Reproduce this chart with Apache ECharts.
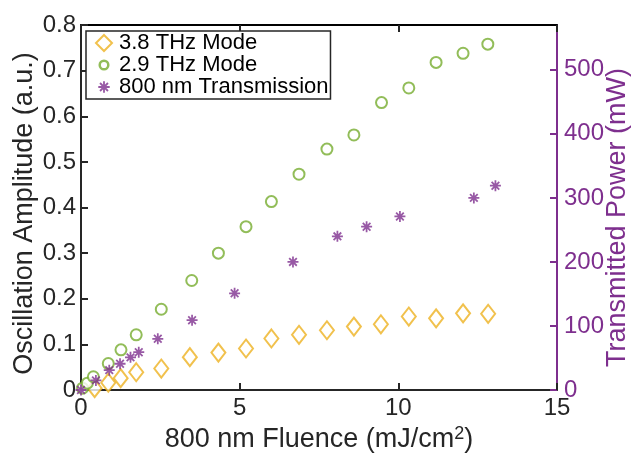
<!DOCTYPE html>
<html><head><meta charset="utf-8">
<script src="https://cdn.jsdelivr.net/npm/echarts@6/dist/echarts.min.js"></script>
<style>html,body{margin:0;padding:0;background:#fff}#c{width:634px;height:457px}</style>
</head><body><div id="c"></div>
<script>
// 3.8 THz mode: fluence (mJ/cm^2), amplitude (a.u.)
const fluence38 = [0, 0.26, 0.43, 0.86, 1.25, 1.74, 2.53, 3.43, 4.33, 5.2, 6.0, 6.87, 7.75, 8.6, 9.45, 10.33, 11.19, 12.04, 12.83];
const amp38 = [-0.003, -0.006, 0.004, 0.016, 0.026, 0.039, 0.047, 0.072, 0.082, 0.091, 0.113, 0.121, 0.131, 0.139, 0.144, 0.161, 0.157, 0.168, 0.167];
// 2.9 THz mode
const fluence29 = [0.05, 0.2, 0.39, 0.86, 1.26, 1.74, 2.53, 3.49, 4.33, 5.2, 6.0, 6.87, 7.75, 8.6, 9.47, 10.33, 11.19, 12.04, 12.82];
const amp29 = [0.004, 0.015, 0.029, 0.058, 0.088, 0.121, 0.177, 0.24, 0.30, 0.358, 0.413, 0.473, 0.528, 0.559, 0.63, 0.662, 0.718, 0.738, 0.758];
// 800 nm transmission: fluence, transmitted power (mW)
const fluenceT = [0, 0.47, 0.89, 1.23, 1.56, 1.82, 2.42, 3.5, 4.84, 6.68, 8.08, 9.0, 10.05, 12.38, 13.06];
const powerT = [0, 15, 31, 41, 51, 59, 80, 109, 151, 200, 240, 255, 271, 300, 319];

const names = ['3.8 THz Mode', '2.9 THz Mode', '800 nm Transmission'];
const xTicks = [0, 5, 10, 15];
const leftTicks = [0, 0.1, 0.2, 0.3, 0.4, 0.5, 0.6, 0.7, 0.8];
const rightTicks = [0, 100, 200, 300, 400, 500];

const C_OR = '#EDB120', C_GR = '#77AC30', C_PU = '#7E2F8E', C_AX = '#262626';
const FONT = 'Liberation Sans, Arial, Helvetica, sans-serif';
const STAR = 'path://M0 8.4H20V11.6H0Z M8.4 0H11.6V20H8.4Z M4.2 1.9L18.1 15.8L15.8 18.1L1.9 4.2Z M18.1 4.2L4.2 18.1L1.9 15.8L15.8 1.9Z';
const STAR_LEG = 'path://M-4 -4 M24 24 M0 8.4H20V11.6H0Z M8.4 0H11.6V20H8.4Z M4.2 1.9L18.1 15.8L15.8 18.1L1.9 4.2Z M18.1 4.2L4.2 18.1L1.9 15.8L15.8 1.9Z';
const CIRC_LEG = 'path://M-3 -3 M23 23 M10 1A9 9 0 1 1 10 19A9 9 0 1 1 10 1Z M10 5A5 5 0 1 0 10 15A5 5 0 1 0 10 5Z';

const zip = (a, b) => a.map((v, i) => [v, b[i]]);

const chart = echarts.init(document.getElementById('c'), null, {renderer: 'canvas'});
chart.setOption({
  animation: false,
  backgroundColor: '#fff',
  textStyle: {fontFamily: FONT},
  grid: {left: 81, right: 77, top: 25, bottom: 67, containLabel: false, outerBoundsMode: 'none'},
  legend: {
    orient: 'vertical', left: 86, top: 31,
    padding: [1, 2, 1, 9], itemGap: 0,
    itemWidth: 16, itemHeight: 16,
    borderColor: C_AX, borderWidth: 1.5, backgroundColor: '#fff',
    textStyle: {fontSize: 22, lineHeight: 22, color: '#000', fontFamily: FONT, padding: [0, 0, 0, 2]},
    data: [
      {name: names[0], icon: 'emptyDiamond'},
      {name: names[1], icon: CIRC_LEG, itemStyle: {color: C_GR, borderWidth: 0}},
      {name: names[2], icon: STAR_LEG, itemStyle: {color: C_PU, borderWidth: 0}}
    ]
  },
  xAxis: [{
    type: 'value', min: 0, max: 15, interval: 5, position: 'bottom',
    name: '800 nm Fluence (mJ/cm{sup|2})', nameLocation: 'middle', nameGap: 35, nameMoveOverlap: false,
    nameTextStyle: {fontSize: 27, color: C_AX, fontFamily: FONT, rich: {sup: {fontSize: 18, verticalAlign: 'top', padding: [0, 0, 12, 0], color: C_AX}}},
    axisLine: {show: true, onZero: false, lineStyle: {color: C_AX, width: 2}},
    axisTick: {show: true, inside: true, length: 7, lineStyle: {color: C_AX, width: 2}},
    axisLabel: {fontSize: 24, color: C_AX, margin: 6, fontFamily: FONT, customValues: xTicks},
    splitLine: {show: false}
  }, {
    type: 'value', min: 0, max: 15, interval: 5, position: 'top',
    axisLine: {show: true, onZero: false, lineStyle: {color: '#000', width: 2}},
    axisTick: {show: true, inside: true, length: 7, lineStyle: {color: C_AX, width: 2}},
    axisLabel: {show: false}, splitLine: {show: false}
  }],
  yAxis: [{
    type: 'value', min: 0, max: 0.8, interval: 0.1, position: 'left',
    name: 'Oscillation Amplitude (a.u.)', nameLocation: 'middle', nameGap: 43, nameMoveOverlap: false,
    nameTextStyle: {fontSize: 27, color: C_AX, fontFamily: FONT, padding: [0, 12, 0, 0]},
    axisLine: {show: true, onZero: false, lineStyle: {color: C_AX, width: 2}},
    axisTick: {show: true, inside: true, length: 7, lineStyle: {color: C_AX, width: 2}},
    axisLabel: {fontSize: 24, color: C_AX, margin: 5, fontFamily: FONT, customValues: leftTicks,
      formatter: v => String(Math.round(v * 10) / 10)},
    splitLine: {show: false}
  }, {
    type: 'value', min: 0, max: 570, position: 'right',
    name: 'Transmitted Power (mW)', nameLocation: 'middle', nameGap: 47, nameMoveOverlap: false,
    nameTextStyle: {fontSize: 27, color: C_PU, fontFamily: FONT, padding: [0, 20, 0, 0]},
    axisLine: {show: true, onZero: false, lineStyle: {color: C_PU, width: 2}},
    axisTick: {show: true, inside: true, length: 7, customValues: rightTicks, lineStyle: {color: C_PU, width: 2}},
    axisLabel: {fontSize: 24, color: C_PU, margin: 7, fontFamily: FONT, customValues: rightTicks},
    splitLine: {show: false}
  }],
  series: [{
    name: names[0], type: 'scatter', xAxisIndex: 0, yAxisIndex: 0,
    symbol: 'emptyDiamond', symbolSize: [14, 18],
    itemStyle: {color: C_OR, borderWidth: 2},
    data: zip(fluence38, amp38), z: 3
  }, {
    name: names[1], type: 'scatter', xAxisIndex: 0, yAxisIndex: 0,
    symbol: 'emptyCircle', symbolSize: 11,
    itemStyle: {color: C_GR, borderWidth: 2.2},
    data: zip(fluence29, amp29), z: 4
  }, {
    name: names[2], type: 'scatter', xAxisIndex: 0, yAxisIndex: 1,
    symbol: STAR, symbolSize: 11,
    itemStyle: {color: C_PU},
    data: zip(fluenceT, powerT), z: 5
  }]
});
</script></body></html>
